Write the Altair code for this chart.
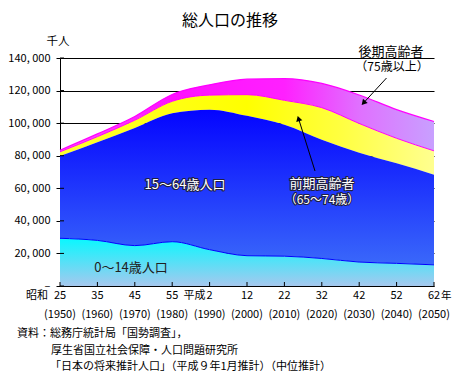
import altair as alt
import pandas as pd

# ---- data (thousand persons) ----
years = [1950, 1960, 1970, 1980, 1990, 2000, 2010, 2020, 2030, 2040, 2050]
age_0_14 = [29300, 28000, 24800, 27200, 22300, 18600, 18300, 16900, 14700, 13900, 13000]
age_15_64 = [50500, 60300, 72200, 78800, 86000, 85900, 80700, 72900, 67100, 61400, 55300]
age_65_74 = [2600, 3400, 4800, 7400, 8900, 13000, 15000, 19700, 18000, 15400, 14700]
age_75_plus = [1000, 1700, 2300, 4200, 6300, 9500, 13300, 14900, 17500, 17600, 18000]

era_labels = ["25", "35", "45", "55", "2", "12", "22", "32", "42", "52", "62"]
western_labels = ["(1950)", "(1960)", "(1970)", "(1980)", "(1990)", "(2000)",
                  "(2010)", "(2020)", "(2030)", "(2040)", "(2050)"]
y_ticks = [0, 20000, 40000, 60000, 80000, 100000, 120000, 140000]

FONT = "Noto Sans CJK JP"
W, H = 374, 228

df = pd.DataFrame({"year": years, "a": age_0_14, "b": age_15_64,
                   "c": age_65_74, "d": age_75_plus,
                   "era": era_labels, "west": western_labels})
df["zero"] = 0
df["c0"] = df["a"]
df["c1"] = df["c0"] + df["b"]
df["c2"] = df["c1"] + df["c"]
df["c3"] = df["c2"] + df["d"]

tick_df = pd.DataFrame({"v": y_ticks})

x_scale = alt.Scale(domain=[1950, 2050], nice=False, zero=False)
y_scale = alt.Scale(domain=[0, 140000], nice=False)

x_axis = alt.Axis(labels=False, ticks=False, grid=False, domainColor="black",
                  domainWidth=1, title=None)
y_axis = alt.Axis(values=y_ticks, title=None, grid=True, gridColor="black",
                  gridOpacity=1, gridWidth=1, domainColor="black", tickColor="black",
                  tickSize=4, labelFont=FONT, labelFontSize=11, labelColor="black",
                  labelPadding=6,
                  labelExpr="datum.value == 0 ? '–' : replace(format(datum.value, ','), ',', ', ')")


def X():
    return alt.X("year:Q", scale=x_scale, axis=x_axis)


def Y(f):
    return alt.Y(f + ":Q", scale=y_scale, axis=y_axis)


def grad_v(c_top, c_bot):
    return alt.Gradient(gradient="linear", x1=0, x2=0, y1=0, y2=1,
                        stops=[alt.GradientStop(color=c_top, offset=0),
                               alt.GradientStop(color=c_bot, offset=1)])


def grad_h(stops):
    return alt.Gradient(gradient="linear", x1=0, x2=1, y1=0, y2=0,
                        stops=[alt.GradientStop(color=c, offset=o) for o, c in stops])


base = alt.Chart(df)


def area(lo, hi, fill):
    return base.mark_area(color=fill, interpolate="monotone").encode(
        x=X(), y=Y(hi), y2=alt.Y2(lo + ":Q"))


a75 = area("c2", "c3", grad_h([(0, "#ff55ff"), (0.3, "#ff10ff"), (0.6, "#ff20ff"),
                               (0.8, "#e070ff"), (1, "#c8a0ff")]))
a65 = area("c1", "c2", grad_h([(0, "#ffff30"), (0.5, "#ffff00"), (0.75, "#ffff40"), (1, "#ffff90")]))
a15 = area("c0", "c1", grad_v("#0404ff", "#3a68fa"))
a0 = area("zero", "c0", grad_v("#08f8ff", "#a6c8ee"))

line_c0 = base.mark_line(color="#0000ff", strokeWidth=1, interpolate="monotone").encode(x=X(), y=Y("c0"))
line_c2 = base.mark_line(color="#ff00ff", strokeWidth=1, interpolate="monotone").encode(x=X(), y=Y("c2"))
line_c3 = base.mark_line(color="#ff00ff", strokeWidth=1.2, interpolate="monotone").encode(x=X(), y=Y("c3"))

# inward ticks
xticks = base.mark_rule(color="black").encode(x=X(), y=alt.value(H), y2=alt.value(H - 4))
yticks = alt.Chart(tick_df).mark_rule(color="black").encode(
    y=Y("v"), x=alt.value(0), x2=alt.value(4))

# x-axis labels (era and western years)
era_txt = base.mark_text(font=FONT, fontSize=11, color="black", baseline="middle").encode(
    x=X(), y=alt.value(238), text="era:N")
west_txt = base.mark_text(font=FONT, fontSize=11, color="black", baseline="middle").encode(
    x=X(), y=alt.value(257), text="west:N")

prefix_df = pd.DataFrame({"year": [1950, 1990], "t": ["昭和", "平成"]})
pre1 = alt.Chart(prefix_df.iloc[[0]]).mark_text(font=FONT, fontSize=11, color="black",
                                                 align="right", baseline="middle", dx=-12).encode(
    x=X(), y=alt.value(238), text="t:N")
pre2 = alt.Chart(prefix_df.iloc[[1]]).mark_text(font=FONT, fontSize=11, color="black",
                                                 align="right", baseline="middle", dx=-4).encode(
    x=X(), y=alt.value(238), text="t:N")
suffix_df = pd.DataFrame({"year": [2050], "t": ["年"]})
suf = alt.Chart(suffix_df).mark_text(font=FONT, fontSize=10.5, color="black",
                                     align="left", baseline="middle", dx=7).encode(
    x=X(), y=alt.value(238), text="t:N")


def label(text, x, y, size, color="black", align="center", weight="normal"):
    return alt.Chart(pd.DataFrame({"t": [text]})).mark_text(
        font=FONT, fontSize=size, color=color, align=align, baseline="middle",
        fontWeight=weight).encode(x=alt.value(x), y=alt.value(y), text="t:N")


def outlined(text, x, y, size):
    d = pd.DataFrame({"t": [text]})
    o = alt.Chart(d).mark_text(font=FONT, fontSize=size, stroke="#202040", strokeWidth=2.2,
                               strokeJoin="round", color="#202040", baseline="middle").encode(
        x=alt.value(x), y=alt.value(y), text="t:N")
    f = alt.Chart(d).mark_text(font=FONT, fontSize=size, color="white", baseline="middle").encode(
        x=alt.value(x), y=alt.value(y), text="t:N")
    return o + f


def arrow(x1, y1, x2, y2, ang):
    d = pd.DataFrame({"k": [0]})
    r = alt.Chart(d).mark_rule(color="black", strokeWidth=1).encode(
        x=alt.value(x1), y=alt.value(y1), x2=alt.value(x2), y2=alt.value(y2))
    p = alt.Chart(d).mark_point(shape="triangle-up", filled=True, color="black",
                                opacity=1, size=40, angle=ang).encode(
        x=alt.value(x2), y=alt.value(y2))
    return r + p


# plot origin at page (60, 58)
title = label("総人口の推移", 170, -37, 16)
unit = label("千人", -2, -16, 11.5)
t75a = label("後期高齢者", 331, -6, 13)
t75b = label("（75歳以上）", 332, 9, 12)
arr75 = arrow(326.5, 20, 303.5, 45, 222)
t65a = outlined("前期高齢者", 262, 126, 13)
t65b = outlined("（65～74歳）", 262, 142, 12)
arr65 = arrow(255, 113, 238.5, 60.5, 343)
t1564 = outlined("15～64歳人口", 125, 127, 13)
t014 = label("0～14歳人口", 71, 210, 13, color="#202020")

src1 = label("資料：総務庁統計局「国勢調査」，", -43, 276, 11, align="left")
src2 = label("厚生省国立社会保障・人口問題研究所", -9, 293, 11, align="left")
src3 = label("「日本の将来推計人口」（平成９年1月推計）（中位推計）", -10, 309, 11, align="left")

chart = alt.layer(
    a75, a65, a15, a0, line_c0, line_c2, line_c3, xticks, yticks,
    era_txt, west_txt, pre1, pre2, suf,
    title, unit, t75a, t75b, arr75, t65a, t65b, arr65, t1564, t014,
    src1, src2, src3
).properties(
    width=W, height=H,
    autosize=alt.AutoSizeParams(type="none"),
    padding={"left": 52, "top": 50, "right": 18, "bottom": 86},
    background="white",
).configure_view(stroke=None)

chart.save("out.html", embed_options={"renderer": "svg", "actions": False})
